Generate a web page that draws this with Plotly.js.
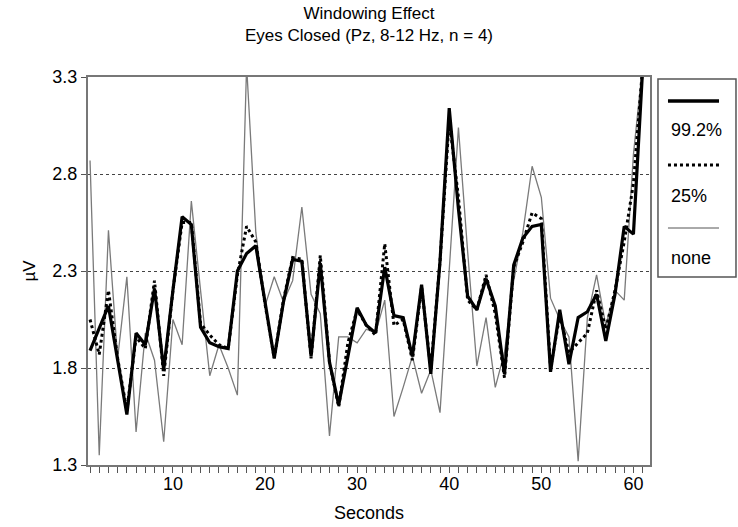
<!DOCTYPE html>
<html>
<head>
<meta charset="utf-8">
<script src="https://cdn.plot.ly/plotly-3.0.1.min.js"></script>
<style>html,body{margin:0;padding:0;background:#fff;}#chart{width:738px;height:527px;}</style>
</head>
<body>
<div id="chart"></div>
<script>
// Seconds (x values)
const seconds = [1,2,3,4,5,6,7,8,9,10,11,12,13,14,15,16,17,18,19,20,21,22,23,24,25,26,27,28,29,30,31,32,33,34,35,36,37,38,39,40,41,42,43,44,45,46,47,48,49,50,51,52,53,54,55,56,57,58,59,60,61];

// 99.2% window
const win992 = [1.89,2.00,2.12,1.84,1.56,1.98,1.92,2.21,1.79,2.20,2.58,2.54,2.01,1.93,1.91,1.90,2.30,2.39,2.43,2.14,1.85,2.14,2.36,2.35,1.86,2.34,1.83,1.61,1.87,2.11,2.02,1.98,2.32,2.07,2.06,1.86,2.23,1.77,2.35,3.14,2.62,2.17,2.10,2.26,2.12,1.77,2.33,2.47,2.53,2.54,1.78,2.10,1.82,2.06,2.09,2.18,1.94,2.18,2.53,2.49,3.34];

// 25% window
const win25 = [2.05,1.87,2.20,1.85,1.58,1.96,1.90,2.25,1.76,2.20,2.55,2.55,2.03,1.97,1.92,1.90,2.28,2.53,2.45,2.13,1.85,2.15,2.37,2.36,1.85,2.38,1.83,1.60,1.93,2.10,2.02,1.97,2.44,2.02,2.05,1.84,2.22,1.79,2.35,3.08,2.68,2.15,2.10,2.28,2.08,1.75,2.32,2.45,2.60,2.57,1.80,2.07,1.88,1.93,1.98,2.20,2.00,2.20,2.45,2.75,3.35];

// no window
const winNone = [2.87,1.35,2.51,1.85,2.27,1.47,1.98,1.84,1.42,2.05,1.92,2.66,2.20,1.76,1.92,1.80,1.66,3.36,2.50,2.12,2.27,2.14,2.25,2.63,2.18,2.08,1.45,1.96,1.96,1.93,2.00,1.98,2.15,1.55,1.70,1.86,1.67,1.79,1.57,2.30,3.04,2.40,1.81,2.06,1.70,1.88,2.25,2.50,2.84,2.68,2.16,2.05,1.96,1.32,2.06,2.28,2.02,2.20,2.15,2.90,3.36];

const seriesNames = ['99.2%','25%','none'];
const xTickVals = [10,20,30,40,50,60];
const xTickText = ['10','20','30','40','50','60'];
const yTickVals = [1.3,1.8,2.3,2.8,3.3];
const yTickText = ['1.3','1.8','2.3','2.8','3.3'];

const FONT = '"Liberation Sans", Arial, Helvetica, sans-serif';

const traces = [
  {x: seconds, y: winNone, name: seriesNames[2], mode: 'lines',
   line: {color: '#7a7a7a', width: 1.3}},
  {x: seconds, y: win25, name: seriesNames[1], mode: 'lines',
   line: {color: '#000', width: 3, dash: 'dot'}},
  {x: seconds, y: win992, name: seriesNames[0], mode: 'lines',
   line: {color: '#000', width: 3.2}}
];

// custom legend (symbol above text), in paper coordinates
const legBox = {x0: 1.0142, x1: 1.153, y0: 0.4845, y1: 0.9948};
const legSampleY = [0.938, 0.7732, 0.6108];
const legTextY = [0.8634, 0.6933, 0.5335];
const legStyles = [
  {color: '#000', width: 3.5},
  {color: '#000', width: 3, dash: 'dot'},
  {color: '#555', width: 1}
];
const shapes = [
  {type: 'rect', xref: 'paper', yref: 'paper', x0: legBox.x0, x1: legBox.x1, y0: legBox.y0, y1: legBox.y1,
   line: {color: '#555', width: 1.5}, fillcolor: 'rgba(0,0,0,0)'}
];
const annotations = [];
for (let i = 0; i < 3; i++) {
  shapes.push({type: 'line', xref: 'paper', yref: 'paper', x0: 1.032, x1: 1.1228,
    y0: legSampleY[i], y1: legSampleY[i], line: legStyles[i]});
  annotations.push({xref: 'paper', yref: 'paper', x: 1.0338, y: legTextY[i], xanchor: 'left', yanchor: 'middle',
    text: seriesNames[i], showarrow: false, font: {family: FONT, size: 18, color: '#000'}});
}

const layout = {
  width: 738, height: 527,
  margin: {l: 88, r: 88, t: 77, b: 62},
  paper_bgcolor: '#fff', plot_bgcolor: '#fff',
  showlegend: false,
  font: {family: FONT, size: 18, color: '#000'},
  title: {text: 'Windowing Effect<br>Eyes Closed (Pz, 8-12 Hz, n = 4)', x: 0.5, xref: 'paper',
          y: 0.964, yref: 'container', yanchor: 'top', font: {family: FONT, size: 17, color: '#000'}},
  xaxis: {
    range: [0.78, 61.8], tickmode: 'array', tickvals: xTickVals, ticktext: xTickText,
    ticks: 'outside', ticklen: 6, tickwidth: 1, tickcolor: '#555',
    minor: {dtick: 1, tick0: 0, ticks: 'outside', ticklen: 6, tickwidth: 1, tickcolor: '#555', showgrid: false},
    showgrid: false, zeroline: false,
    showline: true, mirror: true, linecolor: '#777', linewidth: 2,
    ticklabelstandoff: -5,
    tickfont: {family: FONT, size: 18, color: '#000'},
    title: {text: 'Seconds', font: {family: FONT, size: 18, color: '#000'}, standoff: 14}
  },
  yaxis: {
    range: [1.3, 3.3], tickmode: 'array', tickvals: yTickVals, ticktext: yTickText,
    ticks: 'outside', ticklen: 5, tickwidth: 1, tickcolor: '#555',
    showgrid: true, gridcolor: '#444', gridwidth: 1, griddash: 'dot',
    zeroline: false, showline: true, mirror: true, linecolor: '#777', linewidth: 2,
    tickfont: {family: FONT, size: 18, color: '#000'},
    title: {text: 'µV', font: {family: FONT, size: 17, color: '#000'}, standoff: 12}
  },
  shapes: shapes,
  annotations: annotations
};

Plotly.newPlot('chart', traces, layout, {displayModeBar: false, staticPlot: true});
</script>
</body>
</html>
